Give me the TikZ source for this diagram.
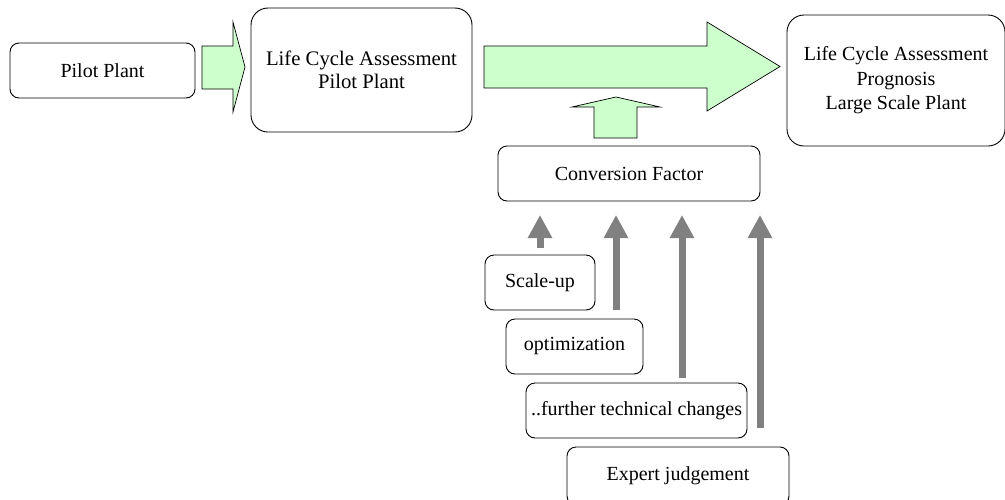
\documentclass[tikz,border=0pt]{standalone}
\usepackage{fontspec}
\setmainfont{Liberation Serif}
\newfontfamily\timesfont{Liberation Serif}
\usetikzlibrary{arrows.meta}
\definecolor{lgreen}{HTML}{CCFFCC}
\definecolor{arrgray}{HTML}{808080}
\tikzset{
  box/.style={draw=black, line width=0.9pt, rounded corners=9pt, inner sep=0pt, align=center,
    font=\timesfont\fontsize{20}{23}\selectfont},
  bigbox/.style={box, rounded corners=17pt},
  greenarrow/.style={draw=black, line width=0.7pt, fill=lgreen},
  grayarrow/.style={draw=arrgray, line width=7pt, line cap=butt,
    -{Triangle[width=23pt,length=23pt]}}
}
\begin{document}
\begin{tikzpicture}[x=1pt,y=-1pt]
\clip (0,0) rectangle (1005,499);
\useasboundingbox (0,0) rectangle (1005,499);
\fill[white] (0,0) rectangle (1005,499);

\node[box, minimum width=185pt, minimum height=55pt] (pilot) at (102.5,70.5) {Pilot Plant};
\node[bigbox, minimum width=221pt, minimum height=124pt, font=\timesfont\fontsize{20.7}{23}\selectfont] (lcapilot) at (361.5,70) {Life Cycle Assessment\\Pilot Plant};
\node[bigbox, minimum width=218pt, minimum height=131pt, font=\timesfont\fontsize{20}{24.5}\selectfont] (lcaprog) at (896,80.5) {Life Cycle Assessment\\Prognosis\\Large Scale Plant};
\node[box, minimum width=262pt, minimum height=55pt] (conv) at (629,173.5) {Conversion Factor};
\node[box, minimum width=110pt, minimum height=55pt] (scale) at (540,282.5) {Scale-up};
\node[box, minimum width=137pt, minimum height=55pt] (optim) at (574.5,346.5) {optimization};
\node[box, minimum width=221pt, minimum height=55pt] (further) at (636.5,410.5) {..further technical changes};
\node[box, minimum width=222pt, minimum height=58pt] (expert) at (678,476) {Expert judgement};

% green block arrows
\draw[greenarrow] (202,46) -- (233,46) -- (233,22) -- (245,67) -- (233,112) -- (233,89) -- (202,89) -- cycle;
\draw[greenarrow] (484,46) -- (707,46) -- (707,22) -- (780,66.5) -- (707,111) -- (707,88) -- (484,88) -- cycle;
\draw[greenarrow] (594,138) -- (594,107) -- (572,107) -- (616,97) -- (660,107) -- (637,107) -- (637,138) -- cycle;

% gray arrows
\coordinate (t1) at (540,215); \coordinate (b1) at (540,248);
\coordinate (t2) at (616,215); \coordinate (b2) at (616,310);
\coordinate (t3) at (682,215); \coordinate (b3) at (682,378);
\coordinate (t4) at (760,215); \coordinate (b4) at (760,428);
\draw[grayarrow] (b1) -- (t1);
\draw[grayarrow] (b2) -- (t2);
\draw[grayarrow] (b3) -- (t3);
\draw[grayarrow] (b4) -- (t4);
\end{tikzpicture}
\end{document}
